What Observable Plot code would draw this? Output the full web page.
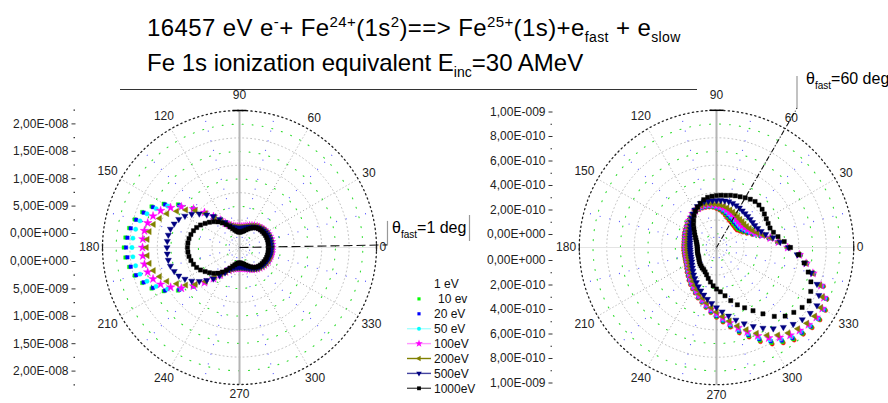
<!DOCTYPE html>
<html>
<head>
<meta charset="utf-8">
<script src="https://cdn.jsdelivr.net/npm/d3@7"></script>
<script src="https://cdn.jsdelivr.net/npm/@observablehq/plot@0.6"></script>
<style>
  html, body { margin: 0; padding: 0; background: #fff; }
  #figure { position: relative; width: 888px; height: 403px; overflow: hidden; background: #fff; }
  #figure > svg { position: absolute; left: 0; top: 0; }
</style>
</head>
<body>
<div id="figure"></div>
<script>
// Emission angle of the slow electron, degrees
const angles = [
  0,5,10,15,20,25,30,35, 40,45,50,55,60,65,70,75, 80,85,90,95,100,105,110,115,
  120,125,130,135,140,145,150,155, 160,165,170,175,180,185,190,195,
  200,205,210,215,220,225,230,235, 240,245,250,255,260,265,270,275,
  280,285,290,295,300,305,310,315, 320,325,330,335,340,345,350,355
];

// Slow-electron energies
const energies = ["1 eV", "10 ev", "20 eV", "50 eV", "100eV", "200eV", "500eV", "1000eV"];

// θfast = 1 deg — cross sections in units of 1e-9
const left10eV = [
  6.02,6.02,6.02,5.99,5.93,5.84,5.75,5.62, 5.47,5.29,5.11,4.89,4.65,4.42,4.20,4.05,
  3.92,3.85,3.83,3.87,3.92,4.07,4.29,4.62, 5.11,6.02,7.30,8.94,11.13,13.69,15.97,17.70,
  18.89,19.80,20.44,20.89,21.11,20.89,20.44,19.80, 18.89,17.70,15.97,13.69,11.13,8.94,7.30,6.02,
  5.11,4.62,4.29,4.07,3.92,3.87,3.83,3.85, 3.92,4.05,4.20,4.42,4.65,4.89,5.11,5.29,
  5.47,5.62,5.75,5.84,5.93,5.99,6.02,6.02
];
const left20eV = [
  6.00,6.00,5.99,5.97,5.91,5.82,5.72,5.60, 5.45,5.27,5.09,4.87,4.63,4.40,4.18,4.03,
  3.90,3.83,3.81,3.85,3.90,4.05,4.27,4.60, 5.11,6.02,7.30,8.85,10.95,13.41,15.69,17.43,
  18.61,19.53,20.16,20.53,20.71,20.53,20.16,19.53, 18.61,17.43,15.69,13.41,10.95,8.85,7.30,6.02,
  5.11,4.60,4.27,4.05,3.90,3.85,3.81,3.83, 3.90,4.03,4.18,4.40,4.63,4.87,5.09,5.27,
  5.45,5.60,5.72,5.82,5.91,5.97,5.99,6.00
];
const left50eV = [
  5.97,5.97,5.96,5.94,5.88,5.79,5.70,5.57, 5.42,5.24,5.06,4.84,4.60,4.37,4.15,4.00,
  3.88,3.81,3.79,3.83,3.88,4.03,4.25,4.58, 5.11,6.02,7.21,8.76,10.77,13.05,15.15,16.79,
  17.97,18.80,19.25,19.53,19.62,19.53,19.25,18.80, 17.97,16.79,15.15,13.05,10.77,8.76,7.21,6.02,
  5.11,4.58,4.25,4.03,3.88,3.83,3.79,3.81, 3.88,4.00,4.15,4.37,4.60,4.84,5.06,5.24,
  5.42,5.57,5.70,5.79,5.88,5.94,5.96,5.97
];
const left100eV = [
  5.93,5.93,5.92,5.90,5.84,5.75,5.66,5.53, 5.38,5.20,5.02,4.80,4.56,4.33,4.11,3.96,
  3.84,3.77,3.75,3.79,3.84,3.99,4.21,4.55, 5.11,6.11,7.39,9.03,10.95,12.96,14.51,15.88,
  16.79,17.34,17.61,17.70,17.70,17.70,17.61,17.34, 16.79,15.88,14.51,12.96,10.95,9.03,7.39,6.11,
  5.11,4.55,4.21,3.99,3.84,3.79,3.75,3.77, 3.84,3.96,4.11,4.33,4.56,4.80,5.02,5.20,
  5.38,5.53,5.66,5.75,5.84,5.90,5.92,5.93
];
const left200eV = [
  5.88,5.88,5.87,5.85,5.79,5.70,5.61,5.48, 5.33,5.15,4.97,4.75,4.51,4.28,4.06,3.91,
  3.79,3.72,3.70,3.74,3.79,3.94,4.16,4.50, 5.11,5.84,7.03,8.76,10.49,11.95,13.23,14.60,
  15.51,16.24,16.70,16.88,16.97,16.88,16.70,16.24, 15.51,14.60,13.23,11.95,10.49,8.76,7.03,5.84,
  5.11,4.50,4.16,3.94,3.79,3.74,3.70,3.72, 3.79,3.91,4.06,4.28,4.51,4.75,4.97,5.15,
  5.33,5.48,5.61,5.70,5.79,5.85,5.87,5.88
];
const left500eV = [
  5.75,5.75,5.74,5.72,5.66,5.57,5.48,5.35, 5.20,5.02,4.84,4.62,4.38,4.15,3.93,3.78,
  3.66,3.58,3.55,3.59,3.64,3.80,4.03,4.40, 5.29,6.30,7.43,8.45,9.58,10.64,11.50,12.23,
  12.68,13.05,13.19,13.23,13.23,13.23,13.19,13.05, 12.68,12.23,11.50,10.64,9.58,8.45,7.43,6.30,
  5.29,4.40,4.03,3.80,3.64,3.59,3.55,3.58, 3.66,3.78,3.93,4.15,4.38,4.62,4.84,5.02,
  5.20,5.35,5.48,5.57,5.66,5.72,5.74,5.75
];
const left1000eV = [
  5.29,5.29,5.29,5.29,5.27,5.22,5.16,5.07, 4.98,4.87,4.67,4.40,4.07,3.74,3.43,3.14,
  2.96,2.85,2.79,2.85,3.01,3.28,3.65,4.16, 4.80,5.47,6.11,6.66,7.17,7.66,8.21,8.63,
  8.94,9.18,9.36,9.45,9.49,9.45,9.36,9.18, 8.94,8.63,8.21,7.66,7.17,6.66,6.11,5.47,
  4.80,4.16,3.65,3.28,3.01,2.85,2.79,2.85, 2.96,3.14,3.43,3.74,4.07,4.40,4.67,4.87,
  4.98,5.07,5.16,5.22,5.27,5.29,5.29,5.29
];

// θfast = 60 deg — cross sections in units of 1e-10
const right1eV = [
  5.79,4.98,4.32,3.67,3.10,2.73,2.49,2.33, 2.20,2.20,2.24,2.28,2.37,2.45,2.57,2.73,
  2.90,3.06,3.18,3.29,3.35,3.39,3.41,3.41, 3.39,3.35,3.26,3.18,3.10,3.02,2.94,2.88,
  2.82,2.75,2.71,2.69,2.69,2.69,2.69,2.71, 2.74,2.79,2.86,2.98,3.14,3.30,3.51,3.71,
  3.92,4.12,4.41,4.65,4.98,5.34,5.71,6.12, 6.61,7.22,7.79,8.49,9.10,9.51,9.87,10.02,
  10.20,10.32,10.28,9.96,9.30,8.24,7.51,6.90
];
const right10eV = [
  5.80,5.00,4.35,3.71,3.16,2.81,2.58,2.43, 2.31,2.31,2.35,2.39,2.48,2.56,2.67,2.82,
  2.98,3.12,3.23,3.33,3.39,3.43,3.44,3.43, 3.40,3.35,3.25,3.16,3.07,2.99,2.90,2.84,
  2.78,2.71,2.67,2.65,2.65,2.65,2.65,2.67, 2.70,2.75,2.82,2.94,3.09,3.25,3.46,3.66,
  3.87,4.07,4.36,4.60,4.92,5.28,5.65,6.05, 6.53,7.13,7.70,8.38,8.98,9.40,9.76,9.93,
  10.12,10.24,10.22,9.90,9.25,8.22,7.49,6.88
];
const right20eV = [
  5.81,5.02,4.38,3.75,3.23,2.90,2.68,2.54, 2.44,2.44,2.48,2.52,2.60,2.68,2.79,2.93,
  3.07,3.20,3.29,3.38,3.44,3.47,3.48,3.46, 3.42,3.35,3.24,3.14,3.04,2.95,2.86,2.80,
  2.73,2.66,2.62,2.60,2.60,2.60,2.60,2.62, 2.65,2.70,2.77,2.89,3.04,3.20,3.41,3.60,
  3.81,4.02,4.30,4.54,4.86,5.21,5.57,5.97, 6.45,7.03,7.59,8.25,8.84,9.27,9.64,9.82,
  10.02,10.15,10.14,9.83,9.20,8.20,7.47,6.85
];
const right50eV = [
  5.81,5.04,4.42,3.80,3.31,2.99,2.79,2.67, 2.58,2.58,2.62,2.66,2.74,2.81,2.92,3.04,
  3.16,3.28,3.36,3.44,3.49,3.52,3.53,3.49, 3.43,3.35,3.23,3.12,3.01,2.91,2.82,2.75,
  2.68,2.61,2.57,2.55,2.55,2.55,2.55,2.57, 2.60,2.65,2.72,2.84,2.99,3.14,3.35,3.54,
  3.75,3.96,4.23,4.47,4.79,5.13,5.49,5.89, 6.36,6.92,7.47,8.11,8.69,9.12,9.50,9.70,
  9.91,10.06,10.06,9.76,9.15,8.18,7.45,6.82
];
const right100eV = [
  5.82,5.07,4.46,3.86,3.40,3.10,2.92,2.81, 2.73,2.74,2.77,2.81,2.89,2.96,3.06,3.17,
  3.27,3.36,3.43,3.50,3.54,3.58,3.57,3.52, 3.45,3.35,3.21,3.09,2.97,2.86,2.77,2.69,
  2.63,2.56,2.52,2.50,2.49,2.49,2.49,2.51, 2.54,2.59,2.66,2.78,2.92,3.08,3.28,3.47,
  3.68,3.89,4.16,4.40,4.71,5.05,5.40,5.79, 6.25,6.80,7.34,7.96,8.53,8.97,9.35,9.58,
  9.80,9.95,9.97,9.68,9.08,8.15,7.43,6.79
];
const right200eV = [
  5.84,5.11,4.52,3.94,3.53,3.27,3.11,3.02, 2.96,2.98,3.00,3.04,3.12,3.19,3.27,3.36,
  3.44,3.50,3.54,3.59,3.63,3.66,3.65,3.58, 3.48,3.35,3.19,3.05,2.92,2.79,2.69,2.61,
  2.54,2.47,2.43,2.41,2.40,2.40,2.40,2.42, 2.45,2.50,2.57,2.69,2.83,2.98,3.17,3.36,
  3.57,3.78,4.05,4.29,4.60,4.92,5.26,5.65, 6.09,6.62,7.14,7.73,8.27,8.72,9.11,9.38,
  9.62,9.78,9.83,9.55,8.99,8.11,7.39,6.74
];
const right500eV = [
  5.88,5.22,4.69,4.16,3.88,3.71,3.61,3.59, 3.59,3.61,3.63,3.67,3.74,3.79,3.85,3.88,
  3.88,3.86,3.84,3.84,3.85,3.88,3.84,3.71, 3.55,3.35,3.14,2.94,2.77,2.61,2.49,2.39,
  2.31,2.24,2.20,2.18,2.16,2.16,2.17,2.19, 2.22,2.27,2.34,2.45,2.57,2.72,2.90,3.08,
  3.29,3.51,3.75,4.00,4.28,4.57,4.90,5.26, 5.67,6.12,6.61,7.10,7.59,8.08,8.49,8.85,
  9.14,9.34,9.47,9.22,8.73,8.00,7.30,6.61
];
const right1000eV = [
  6.04,5.55,5.10,4.81,4.65,4.65,4.69,4.77, 4.86,4.90,4.90,4.81,4.69,4.57,4.49,4.41,
  4.32,4.28,4.24,4.20,4.16,4.04,3.84,3.65, 3.43,3.18,2.90,2.65,2.41,2.20,2.04,1.89,
  1.78,1.69,1.63,1.59,1.57,1.57,1.58,1.60, 1.62,1.63,1.67,1.74,1.82,1.90,1.96,2.04,
  2.08,2.20,2.37,2.61,2.86,3.14,3.39,3.63, 4.00,4.49,4.98,5.43,5.96,6.61,7.34,7.92,
  8.24,8.53,8.73,8.49,8.20,7.75,7.26,6.73
];

// Radial axis ticks
const leftTickValues = [0, 5, 10, 15, 20];
const leftTickLabels = ["0,00E+000", "5,00E-009", "1,00E-008", "1,50E-008", "2,00E-008"];
const leftMinorTicks = [2.5, 7.5, 12.5, 17.5, 22.5];
const rightTickValues = [0, 2, 4, 6, 8, 10];
const rightTickLabels = ["0,00E+000", "2,00E-010", "4,00E-010", "6,00E-010", "8,00E-010", "1,00E-009"];
const rightMinorTicks = [1, 3, 5, 7, 9];
const angleTicks = [0, 30, 60, 90, 120, 150, 180, 210, 240, 270, 300, 330];

// ---------------------------------------------------------------------------
const W = 888, H = 403;
const FONT = "Arial, 'Liberation Sans', sans-serif";
const rad = Math.PI / 180;

// one style per energy: colour, marker, marker radius
const sqrt3 = Math.sqrt(3);
const triangleDown = {draw(ctx, size) {
  const y = -Math.sqrt(size / (sqrt3 * 3));
  ctx.moveTo(0, -y * 2); ctx.lineTo(-sqrt3 * y, y); ctx.lineTo(sqrt3 * y, y); ctx.closePath();
}};
const triangleLeft = {draw(ctx, size) {
  const y = -Math.sqrt(size / (sqrt3 * 3));
  ctx.moveTo(y * 2, 0); ctx.lineTo(-y, -sqrt3 * y); ctx.lineTo(-y, sqrt3 * y); ctx.closePath();
}};
const seriesStyle = [
  {color: "#ff0000", symbol: d3.symbolCircle, r: 2.1},
  {color: "#00ff00", symbol: d3.symbolSquare, r: 2.0},
  {color: "#0000ff", symbol: d3.symbolSquare, r: 2.0},
  {color: "#00ffff", symbol: d3.symbolCircle, r: 2.2},
  {color: "#ff00ff", symbol: d3.symbolStar, r: 2.7},
  {color: "#808000", symbol: triangleLeft, r: 2.3},
  {color: "#000080", symbol: triangleDown, r: 2.3},
  {color: "#000000", symbol: d3.symbolSquare, r: 2.4}
];
const legendLine = [null, null, null, "#a8ffff", "#ff99ff", "#808000", "#4444a0", "#555555"];

function toRows(values) {
  return values.map((r, i) => {
    const t = angles[i] * rad;
    return {angle: angles[i], r, x: r * Math.cos(t), y: r * Math.sin(t)};
  });
}

function ring(r) {
  const pts = [];
  for (let a = 0; a <= 360; a += 1) pts.push({x: r * Math.cos(a * rad), y: r * Math.sin(a * rad)});
  return pts;
}

function polarPanel(p) {
  const {cx, cy, k, rMax, series} = p;
  const px = v => v / k;                 // pixels -> data units
  const R = rMax;
  const marks = [];

  // grid: circles
  for (const f of [0.1, 0.3, 0.5, 0.7, 0.9])
    marks.push(Plot.line(ring(f * R), {x: "x", y: "y", stroke: "#33dd33", strokeWidth: 1.1, strokeDasharray: "1 9"}));
  for (const f of [0.2, 0.4, 0.6, 0.8])
    marks.push(Plot.line(ring(f * R), {x: "x", y: "y", stroke: "#b2b2b2", strokeWidth: 0.8, strokeDasharray: "1 3"}));
  // grid: spokes
  const spokes = d3.range(0, 360, 15).map(a => ({a, x2: R * Math.cos(a * rad), y2: R * Math.sin(a * rad)}));
  marks.push(Plot.link(spokes.filter(d => d.a % 30 === 15), {x1: () => 0, y1: () => 0, x2: "x2", y2: "y2", stroke: "#5555ff", strokeWidth: 1.1, strokeDasharray: "1 9"}));
  marks.push(Plot.link(spokes.filter(d => d.a % 30 === 0 && d.a % 90 !== 0), {x1: () => 0, y1: () => 0, x2: "x2", y2: "y2", stroke: "#999", strokeWidth: 0.9, strokeDasharray: "1 2.5"}));
  // axis lines through the centre
  marks.push(Plot.link([0], {x1: () => -R, y1: () => 0, x2: () => R, y2: () => 0, stroke: "#e4e4e4", strokeWidth: 1}));
  marks.push(Plot.link([0], {x1: () => 0, y1: () => -R, x2: () => 0, y2: () => R, stroke: "#b4b4b4", strokeWidth: 2}));
  // outer circle
  marks.push(Plot.line(ring(R), {x: "x", y: "y", stroke: "#222", strokeWidth: 1.3, strokeDasharray: "1.3 3.2"}));
  // axis end caps
  marks.push(Plot.link([0], {x1: () => -px(7), y1: () => R, x2: () => px(7), y2: () => R, stroke: "#000", strokeWidth: 1.5}));
  marks.push(Plot.link([-1, 1], {x1: d => d * R, y1: () => -px(4), x2: d => d * R, y2: () => px(4), stroke: "#222", strokeWidth: 1.2}));

  // angle labels
  const angleRows = angleTicks.map(a => {
    const label = String(a);
    const c = Math.abs(Math.cos(a * rad)), s = Math.abs(Math.sin(a * rad));
    const rp = R * k + 3 + label.length * 3.4 * c + 7 * s + (a === 90 ? 5 : 0);
    return {label, x: px(rp) * Math.cos(a * rad), y: px(rp) * Math.sin(a * rad)};
  });
  marks.push(Plot.text(angleRows, {x: "x", y: "y", text: "label", fontSize: 12, fill: "#222", lineAnchor: "middle"}));

  // radial scale drawn as a split vertical axis left of the circle
  const gap = px(p.gapPx);
  const tickRows = [];
  p.tickValues.forEach((v, i) => {
    tickRows.push({y: gap + v, label: p.tickLabels[i]});
    tickRows.push({y: -(gap + v), label: p.tickLabels[i]});
  });
  const minorRows = p.minorTicks.flatMap(v => [{y: gap + v}, {y: -(gap + v)}]);
  const ax = px(p.axisPx - cx);
  marks.push(Plot.text(tickRows, {x: () => ax, y: "y", text: "label", textAnchor: "end", lineAnchor: "middle", fontSize: 12, fill: "#222"}));
  marks.push(Plot.link(tickRows, {x1: () => ax + px(3), x2: () => ax + px(7), y1: "y", y2: "y", stroke: "#333", strokeWidth: 1}));
  marks.push(Plot.link(minorRows, {x1: () => ax + px(5), x2: () => ax + px(6.5), y1: "y", y2: "y", stroke: "#333", strokeWidth: 1.2}));

  // measured points, lowest energy first so the 1000 eV curve sits on top
  series.forEach(({idx, values}) => {
    const st = seriesStyle[idx];
    marks.push(Plot.dot(toRows(values), {
      x: "x", y: "y", r: st.r, symbol: st.symbol,
      fill: st.color, stroke: st.color, strokeWidth: 0.4
    }));
  });

  // direction of the fast electron
  const pa = p.pointerAngle * rad, pr = px(p.pointerPx);
  marks.push(Plot.link([0], {
    x1: () => 0, y1: () => 0, x2: () => pr * Math.cos(pa), y2: () => pr * Math.sin(pa),
    stroke: "#111", strokeWidth: 1.1, strokeDasharray: p.pointerDash
  }));
  marks.push(Plot.link([0], {
    x1: () => pr * Math.cos(pa), y1: () => pr * Math.sin(pa),
    x2: () => pr * Math.cos(pa), y2: () => pr * Math.sin(pa) + px(p.barPx),
    stroke: "#999", strokeWidth: 1.2
  }));

  return Plot.plot({
    width: W, height: H, margin: 0,
    x: {type: "linear", domain: [-cx / k, (W - cx) / k], range: [0, W], axis: null},
    y: {type: "linear", domain: [-(H - cy) / k, cy / k], range: [H, 0], axis: null},
    style: {background: "transparent", fontFamily: FONT, fontSize: "12px", overflow: "visible"},
    marks
  });
}

const leftPanel = polarPanel({
  cx: 239, cy: 247, k: 5.48, rMax: 25, gapPx: 14, axisPx: 68,
  tickValues: leftTickValues, tickLabels: leftTickLabels, minorTicks: leftMinorTicks,
  pointerAngle: 1, pointerPx: 148, pointerDash: "9 4", barPx: 24,
  series: [left10eV, left20eV, left50eV, left100eV, left200eV, left500eV, left1000eV]
    .map((values, i) => ({idx: i + 1, values}))
});

const rightPanel = polarPanel({
  cx: 716, cy: 247, k: 12.25, rMax: 11.2, gapPx: 13, axisPx: 545,
  tickValues: rightTickValues, tickLabels: rightTickLabels, minorTicks: rightMinorTicks,
  pointerAngle: 60, pointerPx: 161, pointerDash: "5 2 1 2", barPx: 32,
  series: [right1eV, right10eV, right20eV, right50eV, right100eV, right200eV, right500eV, right1000eV]
    .map((values, i) => ({idx: i, values}))
});

// ---------------------------------------------------------------------------
// Title, annotations and legend
const overlay = d3.create("svg")
  .attr("width", W).attr("height", H)
  .style("font-family", FONT).style("overflow", "visible");

function richText(g, x, y, size, parts, spacing = 0) {
  const t = g.append("text").attr("x", x).attr("y", y).attr("font-size", size)
    .attr("fill", "#000").style("white-space", "pre").style("letter-spacing", spacing + "px");
  let shift = 0;
  for (const [str, kind, small, off] of parts) {
    const target = kind === "sup" ? -off : kind === "sub" ? off : 0;
    t.append("tspan").attr("dy", target - shift)
      .attr("font-size", kind ? small : size).text(str);
    shift = target;
  }
  return t;
}

richText(overlay, 147, 36, 24, [
  ["16457 eV e"], ["-", "sup", 15, 9], ["+ Fe"], ["24+", "sup", 15, 9], ["(1s"], ["2", "sup", 15, 9],
  [")==> Fe"], ["25+", "sup", 15, 9], ["(1s)+e"], ["fast", "sub", 14, 6], [" + e"], ["slow", "sub", 14, 6]
], 0.4);
richText(overlay, 147, 71, 24, [
  ["Fe 1s ionization equivalent E"], ["inc", "sub", 14, 6], ["=30 AMeV"]
]);
overlay.append("line").attr("x1", 120).attr("x2", 697).attr("y1", 89.5).attr("y2", 89.5)
  .attr("stroke", "#333").attr("stroke-width", 1);

richText(overlay, 392, 233, 16, [["θ"], ["fast", "sub", 10, 5], ["=1 deg"]]);
overlay.append("line").attr("x1", 469.5).attr("x2", 469.5).attr("y1", 215).attr("y2", 241)
  .attr("stroke", "#999").attr("stroke-width", 1.2);
richText(overlay, 806, 84, 16, [["θ"], ["fast", "sub", 10, 5], ["=60 deg"]]);

// legend
const lg = overlay.append("g");
energies.forEach((name, i) => {
  const y = 284 + i * 14.9;
  const st = seriesStyle[i];
  if (legendLine[i]) lg.append("line").attr("x1", 407).attr("x2", 431).attr("y1", y).attr("y2", y)
    .attr("stroke", legendLine[i]).attr("stroke-width", 1.4);
  if (i > 0) lg.append("path").attr("transform", `translate(419,${y})`)
    .attr("d", d3.symbol(st.symbol, Math.PI * st.r * st.r * 0.8)()).attr("fill", st.color);
  lg.append("text").attr("x", i === 1 ? 438 : 434).attr("y", y).attr("dy", "0.36em")
    .attr("font-size", 12).attr("fill", "#111").text(name);
});

const fig = document.getElementById("figure");
fig.append(leftPanel, rightPanel, overlay.node());
</script>
</body>
</html>
